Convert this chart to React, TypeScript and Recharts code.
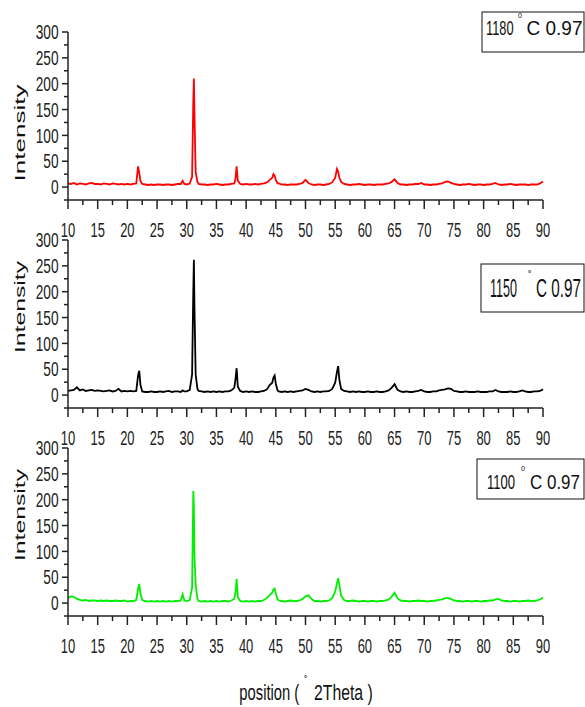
import React from 'react';
import { LineChart, Line, XAxis, YAxis } from 'recharts';

const FONT = "'Liberation Sans', Arial, sans-serif";

// 2Theta positions (degrees)
const twoTheta = [
  10, 10.5, 11, 11.5, 12, 12.5, 13, 13.5, 14, 14.5, 15, 15.5, 16, 16.5, 17, 17.5, 18, 18.5, 19, 19.5, 20, 20.5, 21, 21.5,
  21.8, 22, 22.2, 22.5,
  23, 23.5, 24, 24.5, 25, 25.5, 26, 26.5, 27, 27.5, 28, 28.5, 29, 29.3, 29.6, 30, 30.5,
  30.9, 31.1, 31.2, 31.3, 31.5, 31.8,
  32, 32.5, 33, 33.5, 34, 34.5, 35, 35.5, 36, 36.5, 37, 37.5,
  38, 38.2, 38.4, 38.6,
  39, 39.5, 40, 40.5, 41, 41.5, 42, 42.5, 43, 43.5, 44,
  44.4, 44.6, 44.8, 45, 45.3,
  45.5, 46, 46.5, 47, 47.5, 48, 48.5, 49, 49.5, 50, 50.5, 51, 51.5, 52, 52.5, 53, 53.5, 54, 54.5, 55,
  55.3, 55.5, 55.7,
  56, 56.5, 57, 57.5, 58, 58.5, 59, 59.5, 60, 60.5,
  61, 61.5, 62, 62.5, 63, 63.5, 64, 64.5, 65, 65.5,
  66, 66.5, 67, 67.5, 68, 68.5, 69, 69.5, 70, 70.5,
  71, 71.5, 72, 72.5, 73, 73.5, 74, 74.5, 75, 75.5,
  76, 76.5, 77, 77.5, 78, 78.5, 79, 79.5, 80, 80.5,
  81, 81.5, 82, 82.5, 83, 83.5, 84, 84.5, 85, 85.5,
  86, 86.5, 87, 87.5, 88, 88.5, 89, 89.5, 90,
];

// 1180 °C 0.97 (red)
const intensity1180 = [
  7, 6, 8, 5, 7, 6, 5, 7, 8, 6, 6, 5, 7, 6, 5, 7, 6, 5, 6, 5, 6, 5, 6, 7,
  40, 28, 12, 6,
  5, 4, 5, 4, 5, 5, 4, 5, 5, 4, 5, 6, 6, 12, 6, 5, 7,
  20, 165, 210, 140, 30, 10,
  6, 5, 5, 4, 5, 5, 6, 5, 4, 5, 5, 6,
  7, 15, 40, 12,
  6, 5, 6, 5, 5, 6, 5, 6, 7, 9, 14,
  18, 25, 22, 14, 7,
  7, 5, 5, 4, 5, 5, 5, 6, 8, 14, 8, 5, 4, 5, 5, 4, 5, 6, 9, 18,
  35, 30, 18,
  10, 6, 5, 4, 5, 5, 6, 5, 4, 5,
  5, 4, 5, 5, 5, 6, 7, 10, 15, 8,
  5, 5, 4, 5, 5, 6, 6, 8, 5, 5,
  4, 5, 5, 6, 7, 10, 11, 8, 6, 5,
  4, 5, 5, 6, 5, 4, 5, 5, 4, 5,
  5, 6, 8, 5, 4, 5, 5, 6, 5, 4,
  5, 5, 5, 4, 5, 5, 5, 7, 11,
];

// 1150 °C 0.97 (black)
const intensity1150 = [
  8, 9, 10, 15, 9, 11, 8, 9, 10, 8, 9, 8, 7, 8, 9, 7, 8, 12, 7, 8, 7, 8, 7, 8,
  38, 47, 20, 7,
  6, 6, 7, 6, 6, 7, 6, 7, 8, 6, 7, 7, 6, 9, 7, 7, 10,
  40, 200, 262, 170, 40, 12,
  8, 7, 6, 7, 6, 7, 6, 7, 6, 7, 7, 9,
  14, 30, 52, 16,
  8, 6, 7, 6, 7, 6, 6, 7, 8, 11, 20,
  24, 34, 38, 22, 9,
  7, 6, 7, 6, 7, 6, 7, 8, 9, 12, 10, 7, 6, 7, 6, 7, 7, 8, 12, 24,
  45, 56, 30,
  12, 8, 7, 6, 7, 6, 7, 6, 6, 7,
  6, 6, 7, 6, 6, 7, 9, 14, 21, 10,
  7, 6, 7, 6, 6, 7, 8, 10, 7, 6,
  6, 7, 7, 9, 10, 11, 13, 12, 8, 7,
  6, 6, 7, 6, 6, 6, 7, 6, 6, 6,
  7, 7, 10, 7, 6, 6, 6, 7, 6, 6,
  7, 9, 7, 6, 6, 7, 7, 8, 11,
];

// 1100 °C 0.97 (green)
const intensity1100 = [
  10, 13, 12, 8, 6, 5, 6, 4, 5, 5, 4, 5, 4, 5, 4, 4, 5, 4, 4, 5, 3, 4, 4, 6,
  28, 37, 18, 6,
  4, 3, 4, 3, 4, 3, 4, 3, 4, 3, 4, 4, 5, 17, 5, 4, 6,
  30, 217, 190, 90, 35, 8,
  4, 3, 4, 3, 4, 3, 4, 3, 4, 4, 3, 5,
  8, 20, 47, 12,
  4, 3, 4, 3, 4, 3, 4, 4, 6, 10, 16,
  20, 26, 28, 18, 7,
  5, 4, 3, 4, 5, 4, 4, 5, 8, 13, 15, 8, 4, 4, 3, 4, 4, 5, 10, 22,
  38, 48, 35,
  14, 6, 4, 4, 5, 4, 3, 4, 4, 3,
  4, 4, 3, 4, 4, 5, 7, 12, 20, 9,
  5, 4, 4, 3, 4, 4, 5, 4, 4, 3,
  4, 4, 5, 6, 7, 9, 10, 8, 5, 4,
  4, 3, 4, 4, 3, 4, 4, 3, 4, 4,
  5, 5, 7, 8, 5, 4, 4, 3, 4, 4,
  3, 4, 4, 5, 4, 4, 5, 7, 11,
];

const xTicks = [10, 12.5, 15, 17.5, 20, 22.5, 25, 27.5, 30, 32.5, 35, 37.5, 40, 42.5, 45, 47.5, 50, 52.5, 55, 57.5, 60, 62.5, 65, 67.5, 70, 72.5, 75, 77.5, 80, 82.5, 85, 87.5, 90];
const yTicks = [-25, 0, 25, 50, 75, 100, 125, 150, 175, 200, 225, 250, 275, 300];

const rows = twoTheta.map((x, i) => ({
  x,
  r: intensity1180[i],
  k: intensity1150[i],
  g: intensity1100[i],
}));

const AXIS = '#222';

const YTick = (props: any) => {
  const { x, y, payload } = props;
  const v = payload.value;
  const axisX = x + 10;
  const major = v % 50 === 0;
  const s = String(v);
  return (
    <g>
      <line x1={axisX - (major ? 6 : 4)} x2={axisX} y1={y} y2={y} stroke={AXIS} strokeWidth={1.5} />
      {major && v >= 0 && (
        <text x={axisX - 9.5} y={y} dy="0.36em" textAnchor="end" fontSize={20} fontFamily={FONT} fill="#222"
          textLength={s.length * 7.6} lengthAdjust="spacingAndGlyphs">{s}</text>
      )}
    </g>
  );
};

const XTick = (props: any) => {
  const { x, y, payload } = props;
  const v = payload.value;
  const axisY = y - 10;
  const major = v % 5 === 0;
  const s = String(v);
  return (
    <g>
      <line x1={x} x2={x} y1={axisY} y2={axisY + (major ? 9 : 5)} stroke={AXIS} strokeWidth={1.5} />
      {major && (
        <text x={x} y={axisY + 36.5} textAnchor="middle" fontSize={20} fontFamily={FONT} fill="#222"
          textLength={s.length * 7.2} lengthAdjust="spacingAndGlyphs">{s}</text>
      )}
    </g>
  );
};

const Panel = ({ top, dataKey, color }: { top: number; dataKey: string; color: string }) => (
  <div style={{ position: 'absolute', left: 0, top }}>
    <LineChart width={585} height={240} data={rows} margin={{ top: 32, right: 42, bottom: 0, left: 0 }}>
      <XAxis dataKey="x" type="number" domain={[10, 90]} ticks={xTicks} interval={0} tick={<XTick />}
        tickLine={false} tickSize={8} tickMargin={2} height={40} axisLine={{ stroke: AXIS, strokeWidth: 1.5 }} />
      <YAxis type="number" domain={[-25, 300]} ticks={yTicks} interval={0} tick={<YTick />}
        tickLine={false} tickSize={6} tickMargin={4} width={68} axisLine={{ stroke: AXIS, strokeWidth: 1.5 }} />
      <Line type="linear" dataKey={dataKey} stroke={color} strokeWidth={1.8} dot={false} isAnimationActive={false} />
    </LineChart>
  </div>
);

const T = (p: any) => <text fontFamily={FONT} fill="#111" lengthAdjust="spacingAndGlyphs" {...p} />;

export default function App() {
  return (
    <div style={{ position: 'absolute', left: 0, top: 0, width: 585, height: 707, background: '#fff', overflow: 'hidden' }}>
      <Panel top={0} dataKey="r" color="#ff0000" />
      <Panel top={208} dataKey="k" color="#000000" />
      <Panel top={416} dataKey="g" color="#00f000" />
      <svg width={585} height={707} style={{ position: 'absolute', left: 0, top: 0, pointerEvents: 'none' }}>
        {/* y-axis titles */}
        <T transform="translate(25,133) rotate(-90)" textAnchor="middle" fontSize={15} textLength={97}>Intensity</T>
        <T transform="translate(25,307) rotate(-90)" textAnchor="middle" fontSize={15} textLength={92}>Intensity</T>
        <T transform="translate(25,515) rotate(-90)" textAnchor="middle" fontSize={15} textLength={92}>Intensity</T>

        {/* legend boxes */}
        <rect x={482} y={12} width={102} height={40} fill="#fff" stroke="#111" strokeWidth={1} />
        <T x={486} y={35} fontSize={20} textLength={27.5}>1180</T>
        <T x={518} y={18} fontSize={8} textLength={4}>0</T>
        <T x={526.5} y={35} fontSize={20} textLength={56}>C 0.97</T>

        <rect x={481} y={264} width={103} height={48} fill="#fff" stroke="#111" strokeWidth={1} />
        <T x={490} y={296.7} fontSize={26} textLength={27}>1150</T>
        <T x={528} y={279} fontSize={11}>˚</T>
        <T x={536} y={296.7} fontSize={26} textLength={45}>C 0.97</T>

        <rect x={477} y={459} width={107} height={40} fill="#fff" stroke="#111" strokeWidth={1} />
        <T x={487} y={489} fontSize={20} textLength={28}>1100</T>
        <T x={521} y={471} fontSize={8} textLength={4}>0</T>
        <T x={530} y={489} fontSize={20} textLength={50}>C 0.97</T>

        {/* x-axis title */}
        <T x={239.3} y={700} fontSize={22} textLength={60}>position (</T>
        <T x={304} y={684} fontSize={11}>˚</T>
        <T x={314} y={700} fontSize={22} textLength={58.7}>2Theta )</T>
      </svg>
    </div>
  );
}
